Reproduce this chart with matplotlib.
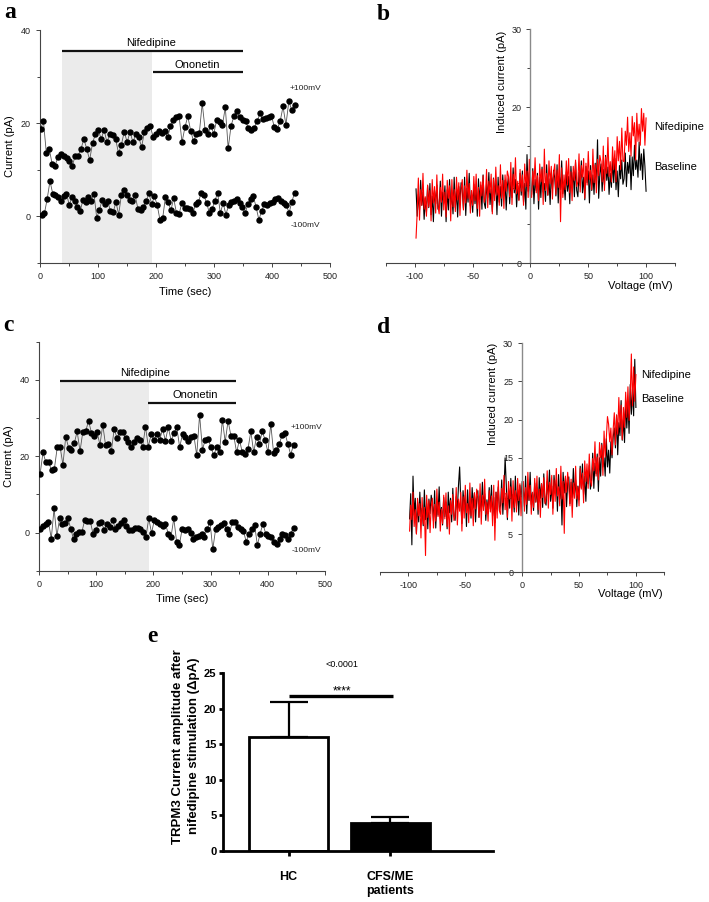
import numpy as np
import matplotlib.pyplot as plt
from matplotlib.ticker import MultipleLocator

plt.rcParams["font.family"] = ["Liberation Sans", "DejaVu Sans"]
plt.rcParams["axes.unicode_minus"] = False

# Panel a: current at +100 mV / -100 mV over time (pA)
a_plus = [
    18.8, 20.4, 13.6, 14.5, 11.3, 10.9, 12.7, 13.3, 13.0, 12.5,
    12.0, 10.9, 13.0, 13.0, 14.5, 16.6, 14.5, 12.1, 15.7, 17.7,
    18.6, 16.6, 18.6, 15.9, 17.7, 17.4, 16.6, 13.6, 15.4, 18.2,
    15.9, 18.2, 15.9, 17.7, 17.0, 14.9, 18.2, 18.9, 19.3, 17.1,
    17.7, 18.4, 17.9, 18.4, 17.0, 19.3, 20.6, 21.4, 21.5, 15.9,
    19.1, 21.5, 18.4, 16.1, 17.7, 17.9, 24.3, 18.6, 17.7, 19.5,
    17.7, 20.7, 20.2, 19.6, 23.4, 14.6, 19.5, 21.5, 22.7,
    21.4, 20.6, 20.4, 19.0, 18.6, 19.0, 20.4, 22.1, 20.9, 21.1,
    21.3, 21.6, 19.1, 18.8, 20.4, 23.6, 19.6, 24.7, 22.9, 24.0,
]
a_minus = [
    0.2, 0.7, 3.8, 7.6, 4.9, 4.5, 4.1, 3.4, 4.3, 4.9,
    2.5, 4.1, 3.4, 2.0, 1.1, 3.6, 3.1, 4.1, 3.4, 4.9,
    -0.3, 1.4, 3.6, 2.7, 3.4, 1.1, 0.9, 3.1, 0.4, 4.7,
    5.6, 4.6, 3.6, 3.4, 4.5, 1.6, 1.4, 2.0, 3.3, 5.0,
    2.6, 4.3, 2.5, -0.7, -0.4, 4.1, 3.1, 1.3, 3.9, 0.8,
    0.6, 2.9, 1.9, 1.9, 1.6, 0.7, 2.7, 3.1, 5.0, 4.5,
    2.9, 0.7, 1.6, 3.4, 5.0, 0.7, 2.9, 0.4,
    2.4, 3.1, 3.4, 3.8, 2.9, 2.0, 0.7, 2.6, 3.8, 4.3,
    2.0, -0.7, 1.1, 2.7, 2.4, 2.9, 3.2, 3.8, 3.9, 3.4,
    2.9, 2.5, 0.7, 3.2, 5.0,
]
a_plus_span = (1, 439)   # first / last sample (sec)
a_minus_span = (3, 439)

# Panel c: second cell
c_plus = [
    15.4, 21.0, 18.4, 18.4, 16.3, 16.7, 22.3, 22.5, 17.8, 25.1,
    22.2, 21.5, 23.4, 26.5, 21.3, 26.4, 26.5, 29.3, 26.2, 25.4,
    26.3, 23.0, 28.2, 22.8, 23.2, 21.3, 27.1, 24.8, 26.3, 26.3,
    24.8, 23.7, 22.3, 23.7, 24.7, 24.3, 22.5, 27.7, 22.5, 25.8,
    24.3, 25.8, 24.3, 27.1, 24.1, 27.6, 24.1, 26.0, 27.6, 22.3,
    25.8,
    25.0, 24.1, 25.1, 25.4, 20.2, 30.9, 21.7, 24.3, 24.5, 22.3,
    20.2, 22.5, 21.0, 29.6, 23.7, 29.3, 25.4, 25.4, 21.0, 24.3,
    21.0, 20.6, 21.9, 26.5, 21.0, 25.1, 23.2, 26.5, 24.3, 21.0,
    28.4, 20.8, 21.7, 23.2, 25.6, 26.0, 23.2, 20.4, 23.0,
]
c_minus = [
    1.0, 1.7, 2.3, 2.8, -1.6, 6.3, -1.0, 3.7, 2.2, 2.5,
    3.7, 1.0, -1.8, -0.3, 0.2, 0.2, 3.2, 3.0, 3.0, -0.4,
    0.6, 2.5, 2.8, 0.6, 2.2, 1.5, 3.4, 1.0, 1.7, 2.5,
    3.4, 1.7, 0.6, 0.6, 1.3, 1.3, 0.8, 0.2, -1.1, 3.7,
    -0.1, 3.2, 2.8, 2.2, 1.7, 2.3, -0.3, -1.1, 3.7, -2.4,
    -3.3,
    1.0, 0.6, 1.0, -0.1, -1.6, -1.1, -1.0, -0.4, -1.1, 1.0,
    2.8, -4.4, 0.8, 1.5, 1.9, 2.5, 0.8, -0.3, 2.8, 2.8,
    1.5, 0.8, 0.4, -2.4, -0.3, 0.8, 2.1, -3.3, -0.3, 2.3,
    -0.3, -1.0, -1.1, -2.4, -2.9, -1.8, -0.4, -0.7, -1.6, -0.3,
    1.3,
]
c_plus_span = (2, 445)
c_minus_span = (2, 445)

# Panel b: I-V ramps (pA), one sample per mV from -99 to 100 mV
b_baseline = [
    9.5, 6.0, 8.8, 6.8, 10.6, 7.4, 9.1, 5.6, 8.3, 6.5, 9.9, 7.1, 10.2, 6.2, 8.6, 5.3, 9.3, 7.6, 10.0, 6.9,
    7.2, 10.5, 6.0, 9.1, 7.7, 9.9, 5.3, 9.4, 6.8, 10.7, 7.5, 8.6, 6.3, 11.0, 7.1, 9.2, 5.9, 9.8, 7.9, 10.3,
    9.3, 7.0, 11.0, 6.1, 9.6, 7.8, 11.5, 7.3, 8.8, 6.5, 10.1, 7.6, 9.5, 6.0, 10.8, 8.1, 10.0, 6.9, 11.3, 7.7,
    7.0, 10.1, 8.4, 11.6, 7.5, 9.5, 6.6, 10.9, 8.8, 10.3, 6.2, 11.0, 7.8, 9.8, 7.3, 11.3, 8.6, 10.6, 6.8, 9.9,
    11.1, 7.6, 10.4, 8.4, 12.2, 9.0, 10.7, 7.2, 9.9, 8.1, 11.5, 8.7, 11.8, 7.8, 10.2, 6.9, 13.9, 9.2, 11.6, 8.5,
    8.8, 12.1, 7.6, 10.7, 9.3, 11.5, 6.9, 11.0, 8.4, 12.3, 9.1, 10.2, 7.9, 12.6, 8.7, 10.8, 7.5, 11.4, 9.5, 11.9,
    10.9, 8.6, 12.6, 7.7, 11.2, 9.4, 13.1, 8.9, 10.4, 8.1, 11.7, 9.2, 11.1, 7.6, 12.4, 9.7, 11.6, 8.5, 12.9, 9.3,
    8.5, 11.6, 9.9, 13.1, 9.0, 11.0, 8.1, 12.4, 10.3, 11.8, 7.7, 12.5, 9.3, 11.3, 8.8, 12.8, 10.1, 15.8, 8.3, 11.4,
    12.7, 9.2, 12.0, 10.0, 13.8, 10.6, 12.3, 8.8, 11.5, 9.7, 13.1, 10.3, 13.4, 9.4, 11.8, 8.5, 12.5, 10.8, 13.2, 10.1,
    10.8, 14.1, 9.8, 12.9, 11.5, 13.8, 9.4, 13.6, 11.2, 15.1, 12.0, 13.2, 11.0, 15.5, 11.9, 14.0, 10.7, 14.6, 12.4, 9.2,
]
b_nifedipine = [
    3.2, 6.5, 10.9, 5.5, 9.4, 7.4, 11.5, 6.9, 8.5, 6.0, 10.0, 7.2, 9.3, 5.4, 10.7, 7.7, 9.8, 6.4, 11.3, 7.3,
    6.3, 9.7, 7.8, 11.4, 6.8, 9.1, 5.9, 10.6, 8.3, 9.9, 5.4, 10.7, 7.2, 9.4, 6.6, 11.0, 8.1, 10.3, 6.1, 9.5,
    10.7, 6.8, 9.9, 7.7, 11.9, 8.3, 10.2, 6.4, 9.3, 7.4, 11.1, 8.0, 11.4, 7.0, 9.7, 6.0, 10.4, 8.6, 11.2, 7.8,
    8.4, 12.0, 7.1, 10.5, 9.0, 11.4, 6.3, 10.8, 8.0, 12.3, 8.7, 9.9, 7.4, 12.6, 8.3, 10.6, 7.0, 11.3, 9.2, 11.8,
    11.1, 8.5, 12.9, 7.5, 11.4, 9.4, 13.5, 8.9, 10.5, 8.0, 12.0, 9.2, 11.3, 7.4, 12.7, 9.8, 11.8, 8.4, 13.3, 9.3,
    8.4, 11.8, 10.0, 13.5, 9.0, 11.2, 8.0, 12.7, 10.4, 12.0, 7.5, 14.6, 9.3, 11.5, 8.7, 13.1, 10.2, 12.4, 8.2, 11.6,
    12.7, 8.8, 11.9, 9.7, 13.9, 5.3, 12.2, 8.4, 11.3, 9.4, 13.1, 10.0, 13.4, 9.0, 11.7, 8.0, 12.4, 10.6, 13.2, 9.8,
    10.4, 14.0, 9.1, 12.5, 11.0, 13.4, 8.3, 12.8, 10.0, 14.3, 10.7, 11.9, 9.4, 14.6, 10.3, 12.6, 9.0, 13.3, 11.2, 13.8,
    13.0, 10.4, 15.0, 9.3, 13.6, 11.5, 16.1, 11.1, 13.0, 10.4, 14.9, 12.0, 14.4, 10.4, 16.2, 13.1, 15.6, 12.0, 17.3, 13.1,
    13.0, 16.9, 15.1, 18.7, 14.3, 16.7, 13.7, 18.8, 16.3, 18.0, 13.2, 19.2, 15.6, 17.8, 15.1, 19.8, 16.9, 19.2, 15.1, 18.6,
]

# Panel d: I-V ramps of the second cell (pA)
d_baseline = [
    7.0, 10.3, 3.6, 12.6, 7.5, 9.7, 5.1, 9.2, 6.6, 10.5, 7.3, 8.4, 6.1, 10.8, 6.9, 9.0, 5.7, 9.6, 7.7, 10.1,
    9.0, 6.7, 10.7, 5.8, 9.3, 7.5, 11.2, 7.0, 8.5, 6.2, 9.8, 7.3, 9.2, 5.7, 10.5, 7.8, 9.7, 6.6, 11.0, 7.4,
    6.8, 9.9, 8.2, 11.4, 13.8, 9.3, 6.4, 10.7, 8.6, 10.1, 6.0, 10.8, 7.6, 9.6, 7.1, 11.1, 8.4, 10.4, 6.6, 9.7,
    10.7, 7.2, 10.0, 8.0, 11.8, 8.6, 10.3, 6.8, 9.5, 7.7, 11.1, 8.3, 11.4, 7.4, 9.8, 6.5, 10.5, 8.8, 11.2, 8.1,
    8.8, 12.1, 7.6, 10.7, 15.0, 11.5, 6.9, 11.0, 8.4, 12.3, 9.0, 10.2, 7.9, 12.6, 8.7, 10.8, 7.5, 11.4, 9.5, 11.9,
    10.9, 8.6, 12.6, 7.7, 11.2, 9.4, 13.1, 8.9, 10.4, 8.1, 11.7, 9.2, 11.1, 7.6, 12.4, 9.7, 11.6, 8.5, 12.9, 9.3,
    8.8, 11.9, 10.2, 13.4, 9.3, 11.3, 8.4, 12.7, 10.6, 12.1, 8.0, 12.8, 9.6, 11.6, 6.2, 13.1, 10.4, 12.4, 8.6, 11.7,
    12.5, 9.0, 11.8, 9.8, 13.6, 10.4, 12.1, 8.6, 11.3, 9.5, 13.9, 11.1, 14.2, 10.2, 12.6, 9.3, 13.3, 11.6, 14.0, 10.9,
    12.0, 15.6, 11.0, 14.3, 12.9, 15.5, 10.6, 15.0, 12.6, 16.9, 13.8, 15.0, 12.6, 17.5, 13.8, 16.0, 13.0, 17.1, 15.0, 17.7,
    18.9, 16.3, 20.6, 15.4, 19.6, 17.9, 22.5, 17.3, 20.0, 17.0, 22.5, 18.9, 22.3, 18.2, 24.6, 20.7, 24.0, 20.5, 27.9, 21.6,
]
d_nifedipine = [
    5.4, 8.8, 6.9, 10.5, 6.0, 8.2, 5.0, 9.7, 7.4, 9.0, 4.5, 9.8, 6.3, 8.5, 2.2, 10.1, 7.2, 9.4, 5.2, 8.6,
    9.7, 5.8, 8.9, 6.7, 10.9, 7.3, 9.2, 5.4, 8.3, 6.4, 10.1, 7.0, 10.4, 6.0, 8.7, 5.0, 9.4, 7.6, 10.2, 6.8,
    7.5, 11.1, 6.2, 9.6, 8.0, 10.5, 5.4, 9.9, 7.1, 11.4, 7.8, 9.0, 6.5, 11.7, 7.4, 9.7, 6.1, 10.4, 8.3, 10.9,
    9.8, 7.2, 11.6, 6.3, 10.1, 8.1, 12.2, 7.6, 9.2, 6.7, 10.7, 7.9, 10.0, 6.1, 11.4, 4.2, 10.5, 7.1, 12.0, 8.0,
    7.6, 11.0, 9.1, 12.7, 8.2, 10.4, 7.2, 11.9, 9.6, 11.2, 6.7, 12.0, 8.5, 10.7, 7.9, 12.3, 9.4, 11.6, 7.4, 10.8,
    11.9, 8.0, 11.1, 8.9, 13.1, 9.5, 11.4, 7.6, 10.5, 8.5, 12.3, 9.2, 12.6, 8.2, 10.9, 7.2, 11.6, 9.8, 12.4, 9.0,
    9.7, 13.3, 8.4, 11.8, 10.2, 12.7, 7.6, 12.1, 9.3, 13.6, 10.0, 11.2, 8.7, 13.9, 9.6, 11.9, 5.1, 12.6, 10.5, 13.1,
    11.3, 8.7, 12.2, 7.2, 11.7, 9.7, 13.9, 9.6, 11.2, 8.7, 13.6, 10.9, 13.0, 9.1, 14.6, 11.9, 14.2, 11.0, 15.5, 12.0,
    11.3, 14.9, 13.3, 17.1, 12.6, 15.1, 12.1, 17.0, 15.0, 16.7, 12.7, 18.5, 15.1, 17.6, 20.4, 19.4, 17.1, 18.9, 15.4, 18.7,
    20.9, 16.7, 20.6, 18.1, 22.9, 19.0, 21.9, 17.4, 21.6, 19.0, 23.6, 20.3, 24.3, 19.9, 23.0, 28.6, 21.8, 26.9, 22.4, 25.9,
]
ramp_span = (-99, 100)  # mV

# Panel e: TRPM3 amplitude after nifedipine (mean, SEM)
e_groups = ["HC", "CFS/ME\npatients"]
e_means = [16.0, 4.0]
e_sem = [5.0, 0.8]
e_pvalue = "<0.0001"
e_stars = "****"

AXIS_GREY = "#444444"


def time_course(ax, plus, plus_span, minus, minus_span, ymax, shade, nif, ono, text_y):
    """Current at +/-100 mV over time, with drug application bars."""
    t_plus = np.linspace(*plus_span, len(plus))
    t_minus = np.linspace(*minus_span, len(minus))

    # Nifedipine period shading (up to the nifedipine bar)
    ax.fill_between(shade, -10, nif[2], color="#ebebeb", lw=0, zorder=0)

    for t, y in ((t_plus, plus), (t_minus, minus)):
        ax.plot(t, y, color="#555555", lw=0.6, marker="o", ms=3.6,
                mfc="black", mec="black", zorder=3)

    # Drug bars
    ax.plot(nif[:2], [nif[2]] * 2, color="#111111", lw=1.6, solid_capstyle="butt")
    ax.plot(ono[:2], [ono[2]] * 2, color="#111111", lw=1.6, solid_capstyle="butt")
    ax.text(text_y[0][0], text_y[0][1], "Nifedipine", ha="center", va="center", fontsize=8)
    ax.text(text_y[1][0], text_y[1][1], "Ononetin", ha="center", va="center", fontsize=8)
    ax.text(text_y[2][0], text_y[2][1], "+100mV", ha="left", va="center", fontsize=6, color="#222")
    ax.text(text_y[3][0], text_y[3][1], "-100mV", ha="left", va="center", fontsize=6, color="#222")

    ax.set_xlim(0, 500)
    ax.set_ylim(-10, ymax)
    ax.xaxis.set_major_locator(MultipleLocator(100))
    ax.xaxis.set_minor_locator(MultipleLocator(50))
    ax.yaxis.set_major_locator(MultipleLocator(20))
    ax.yaxis.set_minor_locator(MultipleLocator(10))
    for side in ("top", "right"):
        ax.spines[side].set_visible(False)
    for side in ("left", "bottom"):
        ax.spines[side].set_color(AXIS_GREY)
        ax.spines[side].set_linewidth(0.8)
    ax.tick_params(which="both", direction="out", color=AXIS_GREY, width=0.7,
                   labelsize=6.5, labelcolor="#222")
    ax.tick_params(which="major", length=3)
    ax.tick_params(which="minor", length=2)
    ax.set_xlabel("Time (sec)", fontsize=8)
    ax.set_ylabel("Current (pA)", fontsize=8)


def iv_curve(ax, baseline, nifedipine, ymajor, yminor, label_y, lab_x, lab_y):
    """Ramp I-V traces, baseline under nifedipine."""
    volts = np.linspace(*ramp_span, len(baseline))
    ax.plot(volts, baseline, color="black", lw=0.8)
    ax.plot(volts, nifedipine, color="red", lw=0.8)

    ax.text(lab_x, label_y[0], "Nifedipine", ha="left", va="center", fontsize=8)
    ax.text(lab_x, label_y[1], "Baseline", ha="left", va="center", fontsize=8)

    ax.set_xlim(-125, 125)
    ax.set_ylim(0, 30)
    ax.spines["left"].set_position(("data", 0))
    for side in ("top", "right"):
        ax.spines[side].set_visible(False)
    ax.spines["left"].set_color("#8a8a8a")
    ax.spines["left"].set_linewidth(1.0)
    ax.spines["bottom"].set_color(AXIS_GREY)
    ax.spines["bottom"].set_linewidth(0.8)
    ax.xaxis.set_major_locator(MultipleLocator(50))
    ax.xaxis.set_minor_locator(MultipleLocator(25))
    ax.yaxis.set_major_locator(MultipleLocator(ymajor))
    if yminor:
        ax.yaxis.set_minor_locator(MultipleLocator(yminor))
    ax.tick_params(which="both", direction="out", color=AXIS_GREY, width=0.7,
                   labelsize=6.5, labelcolor="#222")
    ax.tick_params(which="major", length=3)
    ax.tick_params(which="minor", length=2)

    ax.set_ylabel("Induced current (pA)", fontsize=8)
    ax.yaxis.set_label_coords(lab_y[0], lab_y[1])
    ax.set_xlabel("Voltage (mV)", fontsize=8)
    ax.xaxis.set_label_coords(0.879, -0.075)


fig = plt.figure(figsize=(7.09, 9.02), dpi=100)

ax_a = fig.add_axes([0.0564, 0.7084, 0.4090, 0.2583])
time_course(ax_a, a_plus, a_plus_span, a_minus, a_minus_span, 40,
            shade=[38, 193], nif=(38, 350, 35.5), ono=(195, 350, 31.0),
            text_y=[(192, 37.2), (271, 32.6), (431, 27.4), (432, -1.9)])

ax_b = fig.add_axes([0.5444, 0.7084, 0.4076, 0.2594])
iv_curve(ax_b, b_baseline, b_nifedipine, 10, 5, (17.4, 12.3), 107, (0.419, 0.774))

ax_c = fig.add_axes([0.0550, 0.3673, 0.4034, 0.2539])
time_course(ax_c, c_plus, c_plus_span, c_minus, c_minus_span, 50,
            shade=[37, 193], nif=(37, 345, 39.6), ono=(191, 345, 33.9),
            text_y=[(185, 41.7), (273, 35.9), (439, 27.6), (441, -4.6)])

ax_d = fig.add_axes([0.5360, 0.3655, 0.4010, 0.2539])
iv_curve(ax_d, d_baseline, d_nifedipine, 5, None, (25.9, 22.7), 104.4, (0.415, 0.778))

# Panel e: bar chart
ax_e = fig.add_axes([0.3150, 0.0565, 0.3808, 0.1970])
xpos = np.arange(1, len(e_groups) + 1)
ax_e.bar(xpos, e_means, width=0.77, color=["white", "black"], edgecolor="black", lw=2, zorder=2)
ax_e.errorbar(xpos, e_means, yerr=[[0] * len(e_sem), e_sem], fmt="none", ecolor="black",
              elinewidth=1.6, capsize=14, capthick=1.6, zorder=1)
ax_e.plot([1, 2.03], [21.8, 21.8], color="black", lw=2.4, solid_capstyle="butt")
ax_e.text(1.52, 22.0, e_stars, ha="center", va="baseline", fontsize=8.5)
ax_e.text(1.52, 25.9, e_pvalue, ha="center", va="baseline", fontsize=6.5)
ax_e.set_xlim(0.36, 3.01)
ax_e.set_ylim(0, 25)
ax_e.yaxis.set_major_locator(MultipleLocator(5))
ax_e.set_xticks(xpos)
ax_e.set_xticklabels(e_groups, fontsize=9, fontweight="bold")
for lbl in ax_e.get_yticklabels():
    lbl.set_fontweight("bold")
for side in ("top", "right"):
    ax_e.spines[side].set_visible(False)
for side in ("left", "bottom"):
    ax_e.spines[side].set_linewidth(2)
ax_e.tick_params(axis="y", direction="out", length=3, width=2, labelsize=8, pad=2)
ax_e.tick_params(axis="x", direction="out", length=3.5, width=2, pad=11)
ax_e.set_ylabel("TRPM3 Current amplitude after\nnifedipine stimulation (\u0394pA)",
                fontsize=9.5, fontweight="bold", linespacing=1.5)
ax_e.yaxis.set_label_coords(-0.086, 0.59)

# Panel letters
for letter, x, y in (("a", 4, 18), ("b", 377, 20), ("c", 3, 331), ("d", 377, 333), ("e", 147, 642)):
    fig.text(x / 709, 1 - y / 902, letter, fontsize=17, fontweight="bold",
             family="Liberation Serif", va="baseline", ha="left")

fig.savefig("out.png", dpi=100)
